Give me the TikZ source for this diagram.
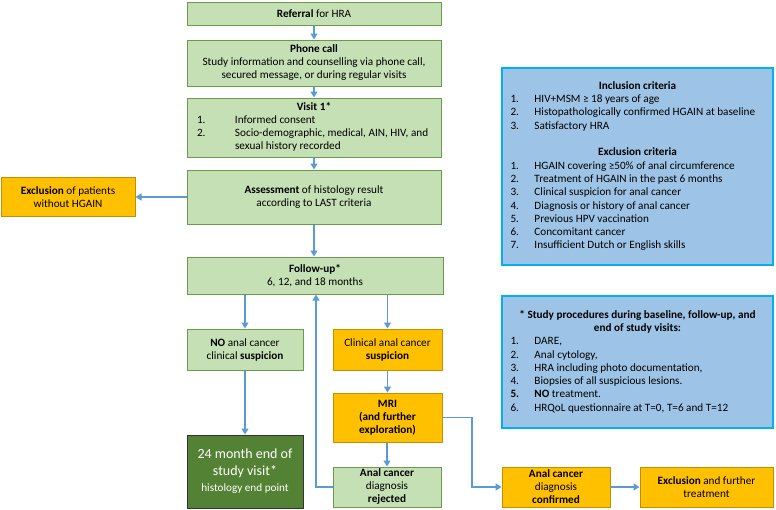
\documentclass[tikz,border=0pt]{standalone}
\usepackage{fontspec}
\usepackage{array}
\setmainfont{Carlito}
\usetikzlibrary{arrows.meta,calc}
\definecolor{gfill}{HTML}{C5E0B4}
\definecolor{gdraw}{HTML}{6A9A4A}
\definecolor{ofill}{HTML}{FFC000}
\definecolor{odraw}{HTML}{BF9000}
\definecolor{bfill}{HTML}{9DC3E6}
\definecolor{bdraw}{HTML}{00B0F0}
\definecolor{dgfill}{HTML}{548235}
\definecolor{arrc}{HTML}{5B9BD5}
\newcolumntype{L}[1]{>{\raggedright\arraybackslash}p{#1}}
\tikzset{
  box/.style={draw, line width=1pt, inner sep=1pt, align=center, font=\fontsize{11.2}{13}\selectfont},
  gbox/.style={box, fill=gfill, draw=gdraw},
  obox/.style={box, fill=ofill, draw=odraw},
  bbox/.style={box, fill=bfill, draw=bdraw, line width=1.2pt, font=\fontsize{11.2}{13.3}\selectfont},
  arr/.style={draw=arrc, line width=1.3pt, -{Triangle[length=6pt,width=7pt]}}
}
\begin{document}
\begin{tikzpicture}[x=1pt,y=-1pt]
\useasboundingbox (0,0) rectangle (776,509);
\node[gbox, minimum width=254pt, minimum height=23pt] (ref) at (314,14) {\textbf{Referral} for HRA};
\node[gbox, minimum width=254pt, minimum height=46pt] (phone) at (314,63) {\textbf{Phone call}\\Study information and counselling via phone call,\\secured message, or during regular visits};
\node[gbox, minimum width=254pt, minimum height=59pt] (visit) at (314,127.5) {\begin{tabular}{@{\hspace{8pt}}L{38pt}@{}L{204pt}@{}}\multicolumn{2}{c}{\textbf{Visit 1*}}\\ 1. & Informed consent\\ 2. & Socio-demographic, medical, AIN, HIV, and sexual history recorded\end{tabular}};
\node[gbox, minimum width=254pt, minimum height=54pt] (assess) at (314,197) {\textbf{Assessment} of histology result\\according to LAST criteria};
\node[obox, minimum width=134pt, minimum height=39pt] (excl) at (68,197) {\textbf{Exclusion} of patients\\without HGAIN};
\node[gbox, minimum width=256pt, minimum height=37pt] (follow) at (315,275.5) {\textbf{Follow-up*}\\6, 12, and 18 months};
\node[gbox, minimum width=116pt, minimum height=41pt] (no) at (245,349.5) {\textbf{NO} anal cancer\\clinical \textbf{suspicion}};
\node[obox, minimum width=109pt, minimum height=41pt] (clin) at (387.5,349.5) {Clinical anal cancer\\\textbf{suspicion}};
\node[obox, minimum width=109pt, minimum height=49pt] (mri) at (387.5,417.5) {\textbf{MRI}\\\textbf{(and further}\\\textbf{exploration)}};
\node[gbox, minimum width=108pt, minimum height=40pt] (rej) at (387,487) {\textbf{Anal cancer}\\diagnosis\\\textbf{rejected}};
\node[box, fill=dgfill, draw=black!80, text=white, minimum width=116pt, minimum height=73pt, font=\fontsize{14}{16.5}\selectfont] (end) at (245,471.5) {24 month end of\\study visit*\\{\fontsize{11.2}{14}\selectfont histology end point}};
\node[obox, minimum width=108pt, minimum height=40pt] (conf) at (556,487) {\textbf{Anal cancer}\\diagnosis\\\textbf{confirmed}};
\node[obox, minimum width=133pt, minimum height=40pt] (exft) at (706.5,487) {\textbf{Exclusion} and further\\treatment};
\node[bbox, minimum width=271pt, minimum height=197pt] (incl) at (637.5,166.5) {\begin{tabular}{@{}L{24pt}@{}L{230pt}@{}}\multicolumn{2}{c}{\textbf{Inclusion criteria}}\\
1. & HIV+MSM ≥ 18 years of age\\
2. & Histopathologically confirmed HGAIN at baseline\\
3. & Satisfactory HRA\\[13.3pt]
\multicolumn{2}{c}{\textbf{Exclusion criteria}}\\
1. & HGAIN covering ≥50\% of anal circumference\\
2. & Treatment of HGAIN in the past 6 months\\
3. & Clinical suspicion for anal cancer\\
4. & Diagnosis or history of anal cancer\\
5. & Previous HPV vaccination\\
6. & Concomitant cancer\\
7. & Insufficient Dutch or English skills
\end{tabular}};
\node[bbox, minimum width=271pt, minimum height=132pt] (proc) at (637.5,362) {\begin{tabular}{@{}L{24pt}@{}L{230pt}@{}}\multicolumn{2}{c}{\textbf{* Study procedures during baseline, follow-up, and}}\\
\multicolumn{2}{c}{\textbf{end of study visits:}}\\
1. & DARE,\\
2. & Anal cytology,\\
3. & HRA including photo documentation,\\
4. & Biopsies of all suspicious lesions.\\
\textbf{5.} & \textbf{NO} treatment.\\
6. & HRQoL questionnaire at T=0, T=6 and T=12
\end{tabular}};
\coordinate (backx) at (316,0);
\coordinate (turnx) at (472,0);
\draw[arr] (ref) -- (phone);
\draw[arr] (phone) -- (visit);
\draw[arr] (visit) -- (assess);
\draw[arr] (assess) -- (assess |- follow.north);
\draw[arr] (assess.west) -- (excl.east);
\draw[arr] (follow.south -| no.north) -- (no.north);
\draw[arr] (follow.south -| clin.north) -- (clin.north);
\draw[arr] (no) -- (end);
\draw[arr] (clin) -- (mri);
\draw[arr] (mri.south -| rej.north) -- (rej.north);
\draw[arr] (rej.west) -| (follow.south -| backx);
\draw[arr] (mri.east) -- (mri.east -| turnx) |- (conf.west);
\draw[arr] (conf) -- (exft);
\end{tikzpicture}
\end{document}
